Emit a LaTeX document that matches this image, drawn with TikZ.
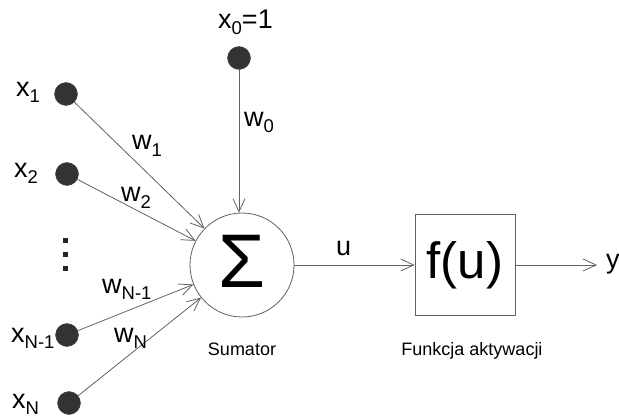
\documentclass[tikz,border=0pt]{standalone}
\usepackage{fontspec}
\setmainfont{Liberation Sans}
\usetikzlibrary{arrows.meta}
% lowered index used in the labels
\newcommand\lo[1]{\raisebox{-6pt}{\fontsize{18.5}{18.5}\selectfont #1}}
\begin{document}
\begin{tikzpicture}[x=1pt,y=-1pt,
  wire/.style={draw=black!62, line width=0.8pt,
    -{Straight Barb[length=13pt,width=12pt,line width=0.8pt]}},
  input/.style={circle, fill=black!80, draw=black!75, minimum size=23pt, inner sep=0pt},
  lbl/.style={inner sep=0pt, anchor=base west, font=\fontsize{27}{27}\selectfont},
  caption/.style={inner sep=0pt, anchor=base, font=\fontsize{18}{18}\selectfont}]
\useasboundingbox (0,0) rectangle (619,417);

% summing junction and activation block
\node[circle, draw=black!62, line width=0.8pt, minimum size=104pt, inner sep=0pt] (sum) at (242,265) {};
\node[inner sep=0pt, anchor=base, font=\fontsize{76}{76}\selectfont] (sigma) at (242,287) {Σ};
\node[draw=black!62, line width=0.8pt, minimum width=100pt, minimum height=101pt, inner sep=0pt] (act) at (465,265)
  {\fontsize{51}{51}\selectfont f(u)};
\coordinate (out) at (597,265);

% input points
\node[input] (x0) at (239,58) {};
\node[input] (x1) at (66,94) {};
\node[input] (x2) at (67,174) {};
\node[input] (xn1) at (67,335) {};
\node[input] (xn) at (69,403) {};

% vertical ellipsis between the inputs
\fill[black!85] (63,238) rectangle (68,243);
\fill[black!85] (63,252) rectangle (68,257);
\fill[black!85] (63,266) rectangle (68,271);

% weighted connections
\draw[wire] (x0) -- (sum.north -| x0);
\draw[wire] (x1) -- (sum);
\draw[wire] (x2) -- (sum);
\draw[wire] (xn1) -- (sum);
\draw[wire] (xn) -- (sum);
\draw[wire] (sum) -- (act);
\draw[wire] (act) -- (out);

% labels
\node[lbl] (lx0) at (218,29) {x\lo{0}=1};
\node[lbl] (lx1) at (16,97) {x\lo{1}};
\node[lbl] (lx2) at (14,178) {x\lo{2}};
\node[lbl] (lxn1) at (11,342) {x\lo{N-1}};
\node[lbl] (lxn) at (12,408) {x\lo{N}};
\node[lbl] (lw0) at (244,127) {w\lo{0}};
\node[lbl] (lw1) at (132,150) {w\lo{1}};
\node[lbl] (lw2) at (121,202) {w\lo{2}};
\node[lbl] (lwn1) at (102,293) {w\lo{N-1}};
\node[lbl] (lwn) at (114,342) {w\lo{N}};
\node[lbl] (lu) at (336,255) {u};
\node[lbl] (ly) at (606,269) {y};
\node[caption] (csum) at (242,355) {Sumator};
\node[caption] (cact) at (472,355) {Funkcja aktywacji};
\end{tikzpicture}
\end{document}
